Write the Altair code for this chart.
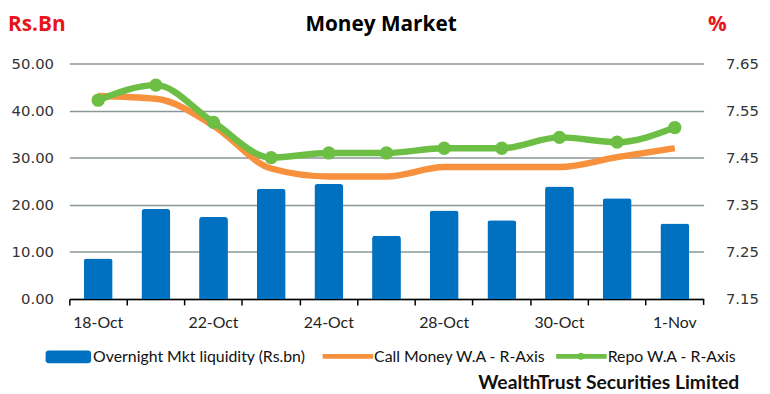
import altair as alt
import pandas as pd

dates = ['18-Oct', '21-Oct', '22-Oct', '23-Oct', '24-Oct', '25-Oct',
         '28-Oct', '29-Oct', '30-Oct', '31-Oct', '1-Nov']
liquidity = [8.6, 19.1, 17.4, 23.4, 24.4, 13.4, 18.8, 16.7, 23.9, 21.4, 16.0]
call_money = [7.581, 7.575, 7.518, 7.427, 7.410, 7.410, 7.430, 7.430, 7.430, 7.451, 7.470]
repo = [7.572, 7.604, 7.525, 7.450, 7.460, 7.460, 7.470, 7.470, 7.493, 7.483, 7.514]
shown_labels = ['18-Oct', '22-Oct', '24-Oct', '28-Oct', '30-Oct', '1-Nov']
left_ticks = [0, 10, 20, 30, 40, 50]
right_ticks = [7.15, 7.25, 7.35, 7.45, 7.55, 7.65]

BLUE = '#0070C0'
ORANGE = '#F7913D'
GREEN = '#6CBE45'
FONT = 'Lato'
TFONT = 'Open Sans'
NUMFONT = 'DejaVu Sans'

bars_df = pd.DataFrame({'date': dates, 'liq': liquidity})
lines_df = pd.DataFrame({
    'date': dates * 2,
    'value': call_money + repo,
    'series': ['Call'] * len(dates) + ['Repo'] * len(dates),
})
repo_df = pd.DataFrame({'date': dates, 'value': repo})

label_expr = "indexof(" + str(shown_labels) + ", datum.value) >= 0 ? datum.value : ''"

x_enc = alt.X('date:N', sort=dates, title=None,
              scale=alt.Scale(paddingInner=0, paddingOuter=0),
              axis=alt.Axis(labelExpr=label_expr, labelAngle=0, labelFont=FONT,
                            labelFontSize=16, labelColor='#222', labelPadding=10,
                            domainColor='#000', domainWidth=1.5, tickColor='#000',
                            tickWidth=1.5, tickSize=6, bandPosition=0, grid=False))

bars = alt.Chart(bars_df).mark_bar(color=BLUE, width=alt.RelativeBandSize(0.5),
                                   cornerRadiusTopLeft=3, cornerRadiusTopRight=3).encode(
    x=x_enc,
    y=alt.Y('liq:Q', title=None, scale=alt.Scale(domain=[0, 50]),
            axis=alt.Axis(values=left_ticks, format='.2f', labelFont=NUMFONT,
                          labelFontSize=15, labelColor='#333', labelPadding=16,
                          domain=False, ticks=False, grid=True,
                          gridColor='#8A9797', gridWidth=1.5)),
)

y_right = alt.Y('value:Q', title=None, scale=alt.Scale(domain=[7.15, 7.65], zero=False),
                axis=alt.Axis(orient='right', values=right_ticks, format='.2f',
                              labelFont=NUMFONT, labelFontSize=15, labelColor='#333',
                              labelPadding=22, domain=False, ticks=False, grid=False))

lines = alt.Chart(lines_df).mark_line(strokeWidth=6.5, interpolate='monotone').encode(
    x=alt.X('date:N', sort=dates),
    y=y_right,
    color=alt.Color('series:N', scale=alt.Scale(domain=['Call', 'Repo'], range=[ORANGE, GREEN]),
                    legend=None),
    order=alt.Order('series:N', sort='ascending'),
)
points = alt.Chart(repo_df).mark_circle(size=180, color=GREEN, opacity=1).encode(
    x=alt.X('date:N', sort=dates),
    y=y_right,
)
right_layer = alt.layer(lines, points)

one = pd.DataFrame({'a': [0]})

def txt(text, x, y, size, color='#111', weight='normal', align='left', font=FONT,
        baseline='middle'):
    return alt.Chart(one).mark_text(text=text, fontSize=size, color=color, fontWeight=weight,
                                    align=align, baseline=baseline, font=font).encode(
        x=alt.value(x), y=alt.value(y))

title = txt('Money Market', 315, -50, 21, '#000', 'bold', 'center', TFONT, 'top')
rsbn = txt('Rs.Bn', -62, -50, 21, '#E8141C', 'bold', 'left', TFONT, 'top')
pct = txt('%', 655, -50, 21, '#E8141C', 'bold', 'center', TFONT, 'top')
footer = txt('WealthTrust Securities Limited', 677, 323, 19.5, '#111', 'bold', 'right')

end_tick = alt.Chart(one).mark_rule(color='#000', strokeWidth=1.5).encode(
    x=alt.value(641), y=alt.value(238), y2=alt.value(244))

leg_rect = alt.Chart(one).mark_rect(color=BLUE, cornerRadius=3).encode(
    x=alt.value(-24), x2=alt.value(22), y=alt.value(290), y2=alt.value(303))
leg_orange = alt.Chart(one).mark_rule(color=ORANGE, strokeWidth=5).encode(
    x=alt.value(256), x2=alt.value(307), y=alt.value(296))
leg_green = alt.Chart(one).mark_rule(color=GREEN, strokeWidth=5).encode(
    x=alt.value(492), x2=alt.value(543), y=alt.value(296))
leg_gdot = alt.Chart(one).mark_circle(color=GREEN, size=50, opacity=1).encode(
    x=alt.value(517), y=alt.value(296))
leg_t1 = txt('Overnight Mkt liquidity (Rs.bn)', 24, 297, 16)
leg_t2 = txt('Call Money W.A - R-Axis', 308, 297, 16)
leg_t3 = txt('Repo W.A - R-Axis', 544, 297, 16)

chart = alt.layer(
    bars, right_layer,
    title, rsbn, pct, footer, end_tick,
    leg_rect, leg_orange, leg_green, leg_gdot, leg_t1, leg_t2, leg_t3,
).resolve_scale(y='independent').properties(
    width=641, height=238,
    autosize=alt.AutoSizeParams(type='none'),
    padding={'left': 62, 'top': 54, 'right': 59, 'bottom': 94},
    background='white',
).configure_view(stroke=None)

chart.save('out.html', embed_options={'renderer': 'svg', 'actions': False})
